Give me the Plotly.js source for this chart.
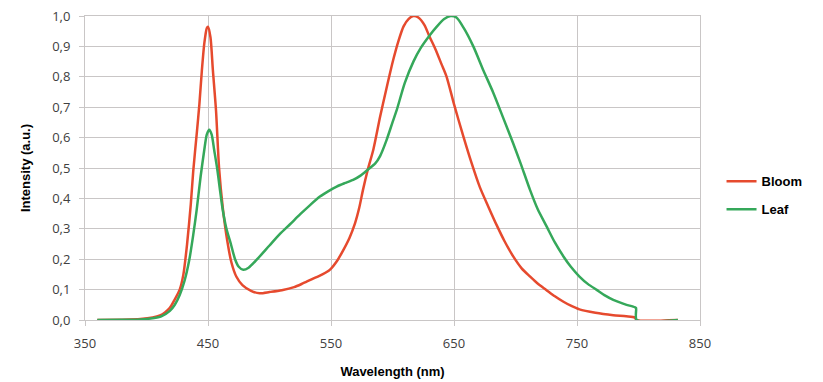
<!DOCTYPE html>
<html>
<head>
<meta charset="utf-8">
<script src="https://cdn.plot.ly/plotly-3.0.1.min.js"></script>
<style>html,body{margin:0;padding:0;background:#fff;}#chart{width:823px;height:382px;}</style>
</head>
<body>
<div id="chart"></div>
<script>
// Bloom spectrum
const bloomWl = [360,380,395,405,411,415,419,423,427,430,433,436,438,441,443,445,447,449,450,452,454,456.5,459,462,465.7,469,473,478,485,492,500,510,520,527.5,535,543,549,555,560,565,569.5,573,576,580,584.4,590,595,600.6,605,609,613,617,621,626,630,635,640,644,650,657.6,664,671,678,684.7,691,698,705,711.8,718,725,732,739,745,752,765,779.5,790,797,798.5,832];
const bloomVal = [0,0.001,0.003,0.008,0.015,0.025,0.04,0.068,0.1,0.15,0.25,0.38,0.49,0.62,0.71,0.82,0.91,0.96,0.965,0.93,0.82,0.69,0.5,0.37,0.26,0.19,0.143,0.115,0.096,0.088,0.092,0.098,0.108,0.121,0.135,0.15,0.165,0.195,0.23,0.27,0.318,0.37,0.428,0.496,0.56,0.67,0.76,0.856,0.92,0.966,0.99,1.0,0.995,0.97,0.933,0.89,0.84,0.80,0.71,0.604,0.52,0.437,0.372,0.312,0.26,0.21,0.17,0.143,0.12,0.099,0.078,0.06,0.047,0.035,0.024,0.016,0.012,0.008,0,0];
// Leaf spectrum
const leafWl = [360,380,395,405,412,419,423,427,431,434.8,438,440.8,444,447,449,451,453,455,457.6,460,462,465,468.4,472,475,478.7,483,490,500,508.5,516.7,525,533,541,548,554.6,561,568,574,580.3,586,590,595,600,603.4,610,617,623,630,636,642,647.3,652,658,665.7,674,682,690,698,704,711.8,718,725.4,732,739,745,752,759,766,773,779.5,788,797,798,798.5,832];
const leafVal = [0,0.001,0.002,0.006,0.012,0.03,0.05,0.082,0.13,0.198,0.28,0.362,0.472,0.56,0.61,0.626,0.61,0.56,0.494,0.42,0.362,0.3,0.253,0.2,0.175,0.165,0.172,0.2,0.245,0.283,0.315,0.348,0.378,0.406,0.424,0.439,0.45,0.461,0.475,0.496,0.515,0.54,0.59,0.65,0.69,0.78,0.85,0.895,0.935,0.965,0.99,1.0,0.995,0.96,0.9,0.82,0.747,0.665,0.582,0.517,0.428,0.365,0.307,0.255,0.209,0.175,0.143,0.118,0.099,0.08,0.066,0.053,0.042,0.04,0,0];
const xTicks = [350,450,550,650,750,850];
const yTicks = [0,0.1,0.2,0.3,0.4,0.5,0.6,0.7,0.8,0.9,1.0];
const yTickText = ["0,0","0,1","0,2","0,3","0,4","0,5","0,6","0,7","0,8","0,9","1,0"];

const traces = [
  {x: bloomWl, y: bloomVal, name: "Bloom", type: "scatter", mode: "lines", legendgroup: "a",
   line: {color: "#e64a2e", width: 2.5, shape: "spline", smoothing: 0.7}},
  {x: leafWl, y: leafVal, name: "Leaf", type: "scatter", mode: "lines", legendgroup: "b",
   line: {color: "#35a85a", width: 2.5, shape: "spline", smoothing: 0.7}}
];
const grid = "#c9c6c6";
const layout = {
  width: 823, height: 382, autosize: false,
  margin: {l: 85, r: 123, t: 16, b: 62},
  paper_bgcolor: "#fff", plot_bgcolor: "#fff",
  font: {family: "Open Sans, sans-serif", color: "#404040"},
  xaxis: {range: [350, 850], tickvals: xTicks, ticktext: xTicks.map(String),
    showgrid: true, gridcolor: grid, gridwidth: 1, zeroline: false,
    showline: true, linecolor: grid, linewidth: 1, mirror: true,
    ticks: "outside", ticklen: 5, tickcolor: grid, ticklabelstandoff: 6,
    tickfont: {size: 13, color: "#404040"},
    title: {text: "Wavelength (nm)", font: {family: "Arial, Liberation Sans, sans-serif", size: 13, color: "#000", weight: "bold"}, standoff: 16}},
  yaxis: {range: [0, 1.0], tickvals: yTicks, ticktext: yTickText,
    showgrid: true, gridcolor: grid, gridwidth: 1, zeroline: false,
    showline: true, linecolor: grid, linewidth: 1, mirror: true,
    ticks: "outside", ticklen: 5, tickcolor: grid, ticklabelstandoff: 6,
    tickfont: {size: 13, color: "#404040"},
    title: {text: "Intensity (a.u.)", font: {family: "Arial, Liberation Sans, sans-serif", size: 13, color: "#000", weight: "bold"}, standoff: 18}},
  legend: {x: 1.035, xanchor: "left", y: 0.41, yanchor: "middle",
    traceorder: "grouped", tracegroupgap: 8,
    font: {family: "Arial, Liberation Sans, sans-serif", size: 13, color: "#000", weight: "bold"},
    bgcolor: "rgba(0,0,0,0)"},
  showlegend: true
};
Plotly.newPlot("chart", traces, layout, {displayModeBar: false, staticPlot: true});
</script>
</body>
</html>
